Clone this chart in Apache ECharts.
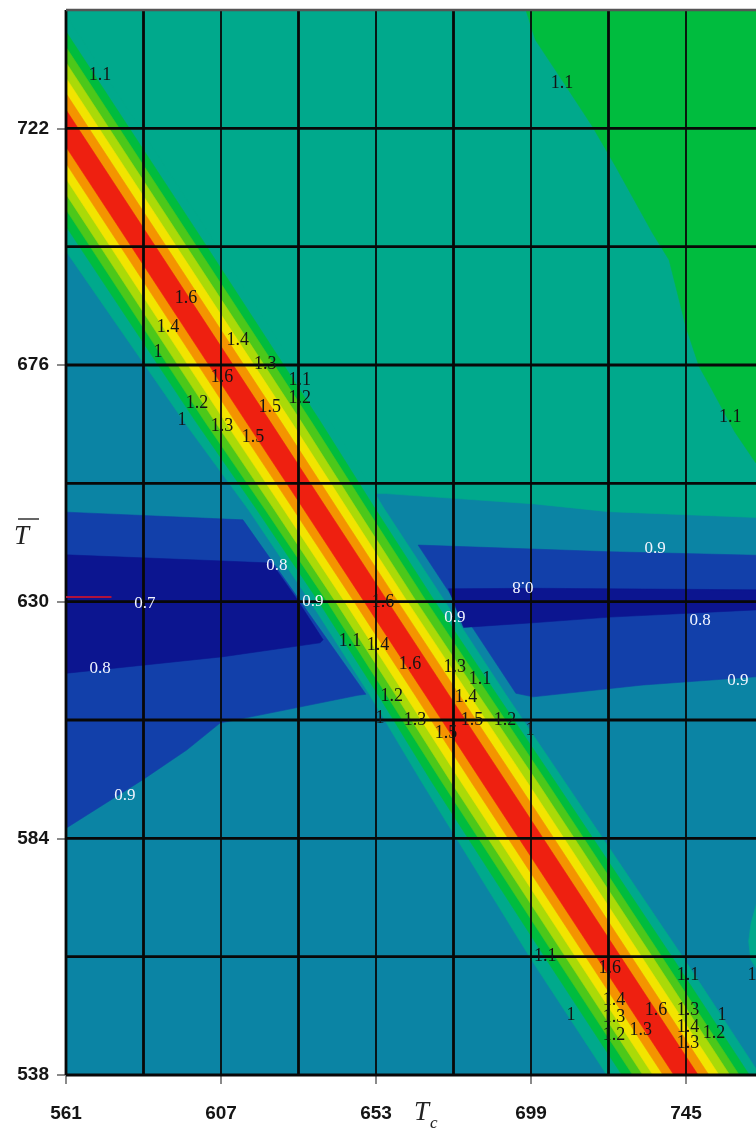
<!DOCTYPE html>
<html>
<head>
<meta charset="utf-8">
<script src="https://cdn.jsdelivr.net/npm/echarts@6/dist/echarts.min.js"></script>
<style>
  html, body { margin: 0; padding: 0; background: #ffffff; }
  #chart { width: 756px; height: 1129px; }
</style>
</head>
<body>
<div id="chart"></div>
<script>
// Axis ranges and labelled ticks
const xRange = [561, 768];
const yRange = [538, 745];
const xTicks = [561, 607, 653, 699, 745];
const yTicks = [538, 584, 630, 676, 722];
const gridXs = [561, 584, 607, 630, 653, 676, 699, 722, 745];
const gridYs = [538, 561, 584, 607, 630, 653, 676, 699, 722, 745];

// Ridge crest (x at each station y) and contour half-widths on each side, per level
const ridgeY = [760, 700, 665, 648, 630, 612, 595, 560, 520];
const ridgeX = [523, 583, 618, 635, 653, 671, 688, 723, 763];
const bandLevels = ['1.0', '1.1', '1.2', '1.3', '1.4', '1.5', '1.6'];
const bandLeft = [
  [24.5, 24.0, 22.0, 20.0, 19.5, 20.0, 21.5, 23.5, 23.5],
  [19.0, 19.0, 18.5, 17.5, 17.0, 17.5, 18.5, 19.0, 19.0],
  [15.8, 15.8, 15.8, 15.0, 14.5, 15.0, 15.5, 15.8, 15.8],
  [12.8, 12.8, 12.8, 12.3, 12.0, 12.3, 12.8, 12.8, 12.8],
  [9.8, 9.8, 9.8, 9.5, 9.3, 9.5, 9.8, 9.8, 9.8],
  [6.8, 6.8, 6.8, 6.6, 6.5, 6.6, 6.8, 6.8, 6.8],
  [3.6, 3.6, 3.6, 3.5, 3.5, 3.5, 3.6, 3.6, 3.6]
];
const bandRight = [
  [22.0, 22.0, 21.5, 20.5, 20.5, 20.5, 21.0, 22.0, 22.0],
  [18.8, 18.8, 18.5, 17.8, 17.5, 17.8, 18.2, 18.8, 18.8],
  [15.8, 15.8, 15.8, 15.3, 15.0, 15.3, 15.6, 15.8, 15.8],
  [12.8, 12.8, 12.8, 12.3, 12.0, 12.3, 12.8, 13.0, 13.0],
  [9.8, 9.8, 9.8, 9.5, 9.3, 9.5, 9.8, 9.8, 9.8],
  [6.8, 6.8, 6.8, 6.6, 6.5, 6.6, 6.8, 6.8, 6.8],
  [3.6, 3.6, 3.6, 3.5, 3.5, 3.5, 3.6, 3.6, 3.6]
];

// Background contour regions (vertices in data units)
const plateArea = [[550, 530], [780, 530], [780, 760], [550, 760]];
const upperPlateau = [[523, 760], [632, 651], [656, 651], [700, 649], [722, 647.5], [780, 646], [780, 760]];
const upperRightHigh = [[697.5, 760], [697.5, 745], [700.3, 739.2], [708.8, 730.8], [717.3, 722.3], [724.2, 714.5],
  [735.1, 701.6], [740.0, 696.4], [745.0, 683.4], [748.9, 675.7], [751.8, 672.3], [759.5, 663.0],
  [765.7, 657.0], [780, 651], [780, 760]];
const lowerRightRise = [[780, 572], [766, 571.5], [764.3, 567.5], [763.6, 564], [764.2, 560.5], [766, 558.5], [780, 558]];
const leftTrough = [[550, 647.6], [561, 647.4], [613.5, 645.9], [650, 612], [647.6, 611.8], [606.7, 606.4],
  [596.9, 601.2], [583.8, 595.4], [561.6, 586.2], [550, 581.5]];
const leftCore = [[550, 639.2], [561, 639.1], [607.6, 637.9], [622, 637.5], [629, 631], [637.3, 622.6],
  [636.4, 622.0], [607.6, 619.3], [561.3, 616.1], [550, 615.5]];
const rightTrough = [[665.5, 641], [722.4, 639.7], [780, 638.8], [780, 616], [765.7, 615.4], [732.2, 613.8],
  [699.6, 611.5], [694.5, 612.2]];
const rightCore = [[674.5, 632.5], [700, 632.6], [765.7, 632.3], [780, 632.3], [780, 628.4], [765.7, 628.4],
  [722.4, 627.0], [699.6, 625.9], [679.0, 625.0]];
const redMark = [[561, 630.9], [574.5, 630.9]];

// Contour labels: [text, x, y]
const darkLabels = [
  ['1.1', 571.1, 732.4], ['1.1', 708.2, 730.8], ['1.6', 596.6, 689.0], ['1.4', 591.3, 683.4],
  ['1', 588.3, 678.5], ['1.4', 612.0, 680.9], ['1.3', 620.1, 676.2], ['1.6', 607.3, 673.7],
  ['1.1', 630.4, 673.1], ['1.2', 599.9, 668.6], ['1', 595.4, 665.3], ['1.3', 607.3, 664.0],
  ['1.5', 621.5, 667.8], ['1.2', 630.4, 669.6], ['1.5', 616.5, 662.0], ['1.1', 758.1, 665.9],
  ['1.6', 655.1, 629.9], ['1.1', 645.3, 622.4], ['1.4', 653.6, 621.6], ['1.6', 663.1, 617.9],
  ['1.3', 676.4, 617.3], ['1.1', 683.9, 615.0], ['1.2', 657.7, 611.7], ['1.4', 679.7, 611.5],
  ['1', 654.2, 607.4], ['1.3', 664.6, 607.0], ['1.5', 673.8, 604.5], ['1.5', 681.5, 607.0],
  ['1.2', 691.3, 607.0], ['1', 698.7, 605.1], ['1.1', 703.2, 561.1], ['1.6', 722.4, 558.8],
  ['1.1', 745.6, 557.4], ['1', 764.6, 557.4], ['1', 710.9, 549.7], ['1.4', 723.6, 552.6],
  ['1.3', 723.6, 549.3], ['1.2', 723.6, 545.8], ['1.6', 736.1, 550.6], ['1.3', 731.6, 546.7],
  ['1.3', 745.6, 550.6], ['1.4', 745.6, 547.3], ['1.3', 745.6, 544.2], ['1', 755.7, 549.7],
  ['1.2', 753.3, 546.2]
];
const lightLabels = [
  ['0.8', 623.6, 637.1, 0], ['0.7', 584.4, 629.7, 0], ['0.9', 634.3, 630.1, 0], ['0.8', 571.1, 617.1, 0],
  ['0.9', 578.5, 592.4, 0], ['0.9', 735.8, 640.4, 0], ['0.8', 696.6, 632.9, 180], ['0.9', 676.4, 627.0, 0],
  ['0.8', 749.2, 626.4, 0], ['0.9', 760.4, 614.6, 0]
];

const colors = {
  tealBlue: '#0B84A4',
  tealGreen: '#00A98C',
  green: '#00BC3E',
  blue: '#1240AA',
  navy: '#0C1590'
};
const bandColors = ['#00A98C', '#00BC3E', '#4CC81A', '#AADA08', '#F2E400', '#F49400', '#EE2010'];

const regions = [
  { pts: plateArea, color: colors.tealBlue },
  { pts: upperPlateau, color: colors.tealGreen },
  { pts: upperRightHigh, color: colors.green },
  { pts: lowerRightRise, color: colors.tealGreen },
  { pts: leftTrough, color: colors.blue },
  { pts: leftCore, color: colors.navy },
  { pts: rightTrough, color: colors.blue },
  { pts: rightCore, color: colors.navy }
];
bandLevels.forEach((lvl, k) => {
  const left = ridgeY.map((y, i) => [ridgeX[i] - bandLeft[k][i], y]);
  const right = ridgeY.map((y, i) => [ridgeX[i] + bandRight[k][i], y]).reverse();
  regions.push({ pts: left.concat(right), color: bandColors[k] });
});

const gridLines = gridXs.map(v => ({ dir: 'v', v: v }))
  .concat(gridYs.map(v => ({ dir: 'h', v: v })));

const chart = echarts.init(document.getElementById('chart'), null, { renderer: 'canvas' });

const axisLabelStyle = {
  fontFamily: 'Liberation Sans', fontWeight: 'bold', fontSize: 19, color: '#151515'
};
const titleFont = 'italic 27px "Liberation Serif"';

chart.setOption({
  animation: false,
  backgroundColor: '#ffffff',
  grid: { left: 66, top: 10, width: 697.5, height: 1065, outerBoundsMode: 'none', containLabel: false },
  xAxis: {
    type: 'value', min: xRange[0], max: xRange[1],
    splitLine: { show: false },
    axisLine: { show: false },
    axisTick: { show: true, customValues: xTicks, length: 9, lineStyle: { color: '#8a8a8a', width: 2 } },
    axisLabel: Object.assign({ customValues: xTicks, margin: 29 }, axisLabelStyle)
  },
  yAxis: {
    type: 'value', min: yRange[0], max: yRange[1],
    splitLine: { show: false },
    axisLine: { show: false },
    axisTick: { show: true, customValues: yTicks, length: 9, lineStyle: { color: '#8a8a8a', width: 2 } },
    axisLabel: Object.assign({ customValues: yTicks, margin: 17 }, axisLabelStyle)
  },
  graphic: [
    // vertical axis title: T with an overbar
    { type: 'text', left: 14, top: 523, style: { text: 'T', font: titleFont, fill: '#222' } },
    { type: 'line', shape: { x1: 18, y1: 519, x2: 39, y2: 519 }, style: { stroke: '#333', lineWidth: 1.5 } },
    // horizontal axis title: T with subscript c
    {
      type: 'text', left: 414, top: 1099,
      style: {
        text: '{t|T}{c|c}',
        rich: {
          t: { font: titleFont, fill: '#222' },
          c: { font: 'italic 17px "Liberation Serif"', fill: '#222', padding: [22, 0, 0, 1] }
        }
      }
    }
  ],
  series: [
    {
      type: 'custom',
      coordinateSystem: 'cartesian2d',
      clip: true,
      silent: true,
      data: regions.map((r, i) => [xRange[0], yRange[0], i]),
      renderItem: function (params, api) {
        const r = regions[params.dataIndex];
        return {
          type: 'polygon',
          shape: { points: r.pts.map(p => api.coord(p)) },
          style: { fill: r.color, stroke: r.color, lineWidth: 0.6 }
        };
      },
      z: 1
    },
    {
      type: 'custom',
      coordinateSystem: 'cartesian2d',
      clip: false,
      silent: true,
      data: gridLines.map((g, i) => [xRange[0], yRange[0], i]),
      renderItem: function (params, api) {
        const g = gridLines[params.dataIndex];
        let a, b, w, c = '#080808';
        if (g.dir === 'v') {
          a = api.coord([g.v, yRange[0]]); b = api.coord([g.v, yRange[1]]);
          w = xTicks.indexOf(g.v) >= 0 && g.v !== xRange[0] ? 1.8 : 2.8;
        } else {
          a = api.coord([xRange[0], g.v]); b = api.coord([xRange[1], g.v]);
          w = 2.8;
          if (g.v === yRange[1]) { c = '#555'; w = 2.5; }
        }
        return {
          type: 'line',
          shape: { x1: a[0], y1: a[1], x2: b[0], y2: b[1] },
          style: { stroke: c, lineWidth: w }
        };
      },
      z: 3
    },
    {
      type: 'line',
      data: redMark,
      symbol: 'none',
      silent: true,
      lineStyle: { color: '#B0123C', width: 2 },
      z: 4
    },
    {
      type: 'custom',
      coordinateSystem: 'cartesian2d',
      clip: true,
      silent: true,
      data: darkLabels.map(l => [l[1], l[2]]),
      renderItem: function (params, api) {
        const l = darkLabels[params.dataIndex];
        const p = api.coord([l[1], l[2]]);
        return {
          type: 'text', x: p[0], y: p[1],
          style: {
            text: l[0], fill: '#141414', align: 'center', verticalAlign: 'middle',
            font: '18px "Liberation Serif"'
          }
        };
      },
      z: 5
    },
    {
      type: 'custom',
      coordinateSystem: 'cartesian2d',
      clip: true,
      silent: true,
      data: lightLabels.map(l => [l[1], l[2]]),
      renderItem: function (params, api) {
        const l = lightLabels[params.dataIndex];
        const p = api.coord([l[1], l[2]]);
        return {
          type: 'text', x: p[0], y: p[1], rotation: l[3] * Math.PI / 180,
          style: {
            text: l[0], fill: '#f2f4ff', align: 'center', verticalAlign: 'middle',
            font: '17px "Liberation Sans Narrow"'
          }
        };
      },
      z: 5
    }
  ]
});
</script>
</body>
</html>
